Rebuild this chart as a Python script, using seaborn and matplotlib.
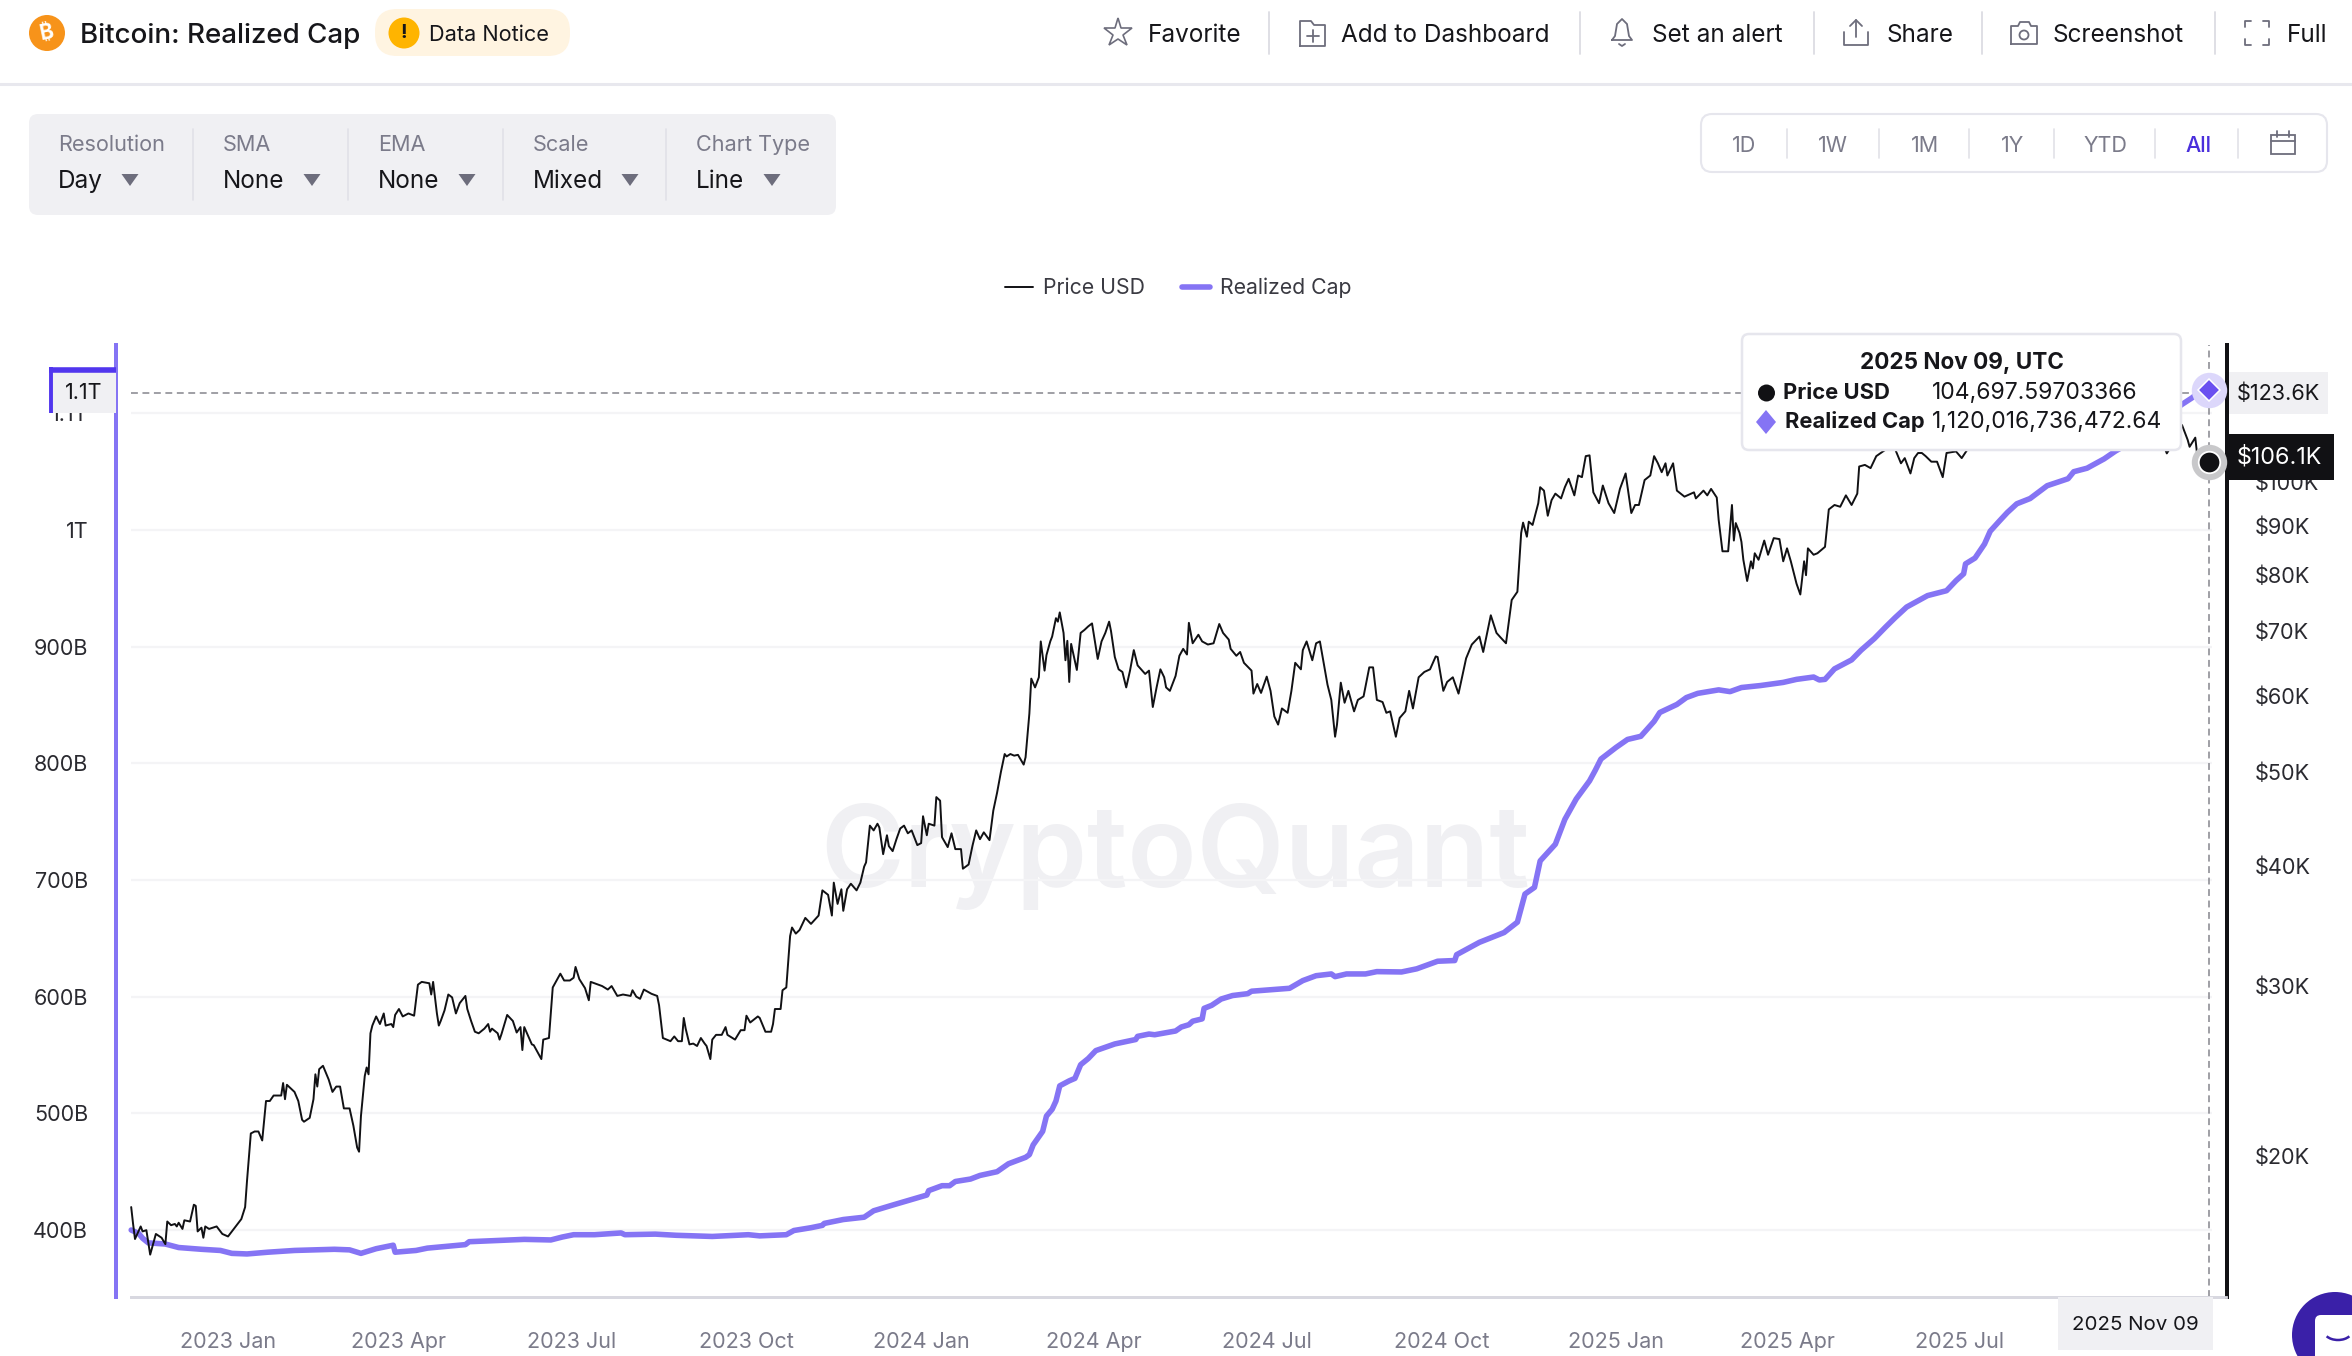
#!/usr/bin/env python3

import numpy as np
import pandas as pd
import seaborn as sns

import matplotlib
matplotlib.use("Agg")
import matplotlib.pyplot as plt
import matplotlib.dates as mdates
from matplotlib.patches import Circle, FancyBboxPatch, Rectangle, Polygon, Arc
from matplotlib.ticker import NullLocator

# --------------------------------------------------------------------------------
# data, days are counted from 2023-01-01

price_days = [
    -51, -50, -49, -46, -45, -43, -41, -38, -35, -33, -32, -30, -28, -27, -26, -24,
    -23, -20, -18, -17, -16, -14, -13, -12, -10, -6, -3, 0, 4, 7, 9, 10,
    12, 14, 16, 18, 20, 22, 24, 28, 29, 30, 31, 35, 37, 39, 40, 43,
    45, 46, 47, 48, 50, 53, 55, 57, 59, 61, 64, 66, 68, 69, 70, 72,
    73, 74, 75, 76, 78, 80, 82, 83, 86, 87, 88, 90, 92, 95, 98, 99,
    100, 102, 106, 107, 108, 110, 111, 112, 114, 116, 118, 120, 122, 125, 126, 128,
    130, 132, 135, 137, 138, 139, 142, 143, 144, 147, 150, 152, 154, 155, 156, 160,
    161, 165, 166, 169, 171, 173, 175, 177, 180, 182, 183, 185, 188, 190, 191, 193,
    197, 200, 202, 205, 208, 212, 213, 215, 217, 219, 223, 226, 227, 229, 231, 233,
    235, 237, 239, 240, 241, 243, 245, 247, 249, 251, 252, 254, 255, 257, 260, 262,
    263, 267, 270, 272, 273, 275, 279, 280, 283, 286, 287, 288, 291, 292, 294, 296,
    297, 299, 301, 304, 307, 311, 313, 316, 318, 319, 321, 323, 324, 326, 328, 331,
    333, 335, 336, 338, 340, 342, 343, 345, 347, 348, 350, 352, 354, 356, 358, 360,
    363, 365, 366, 368, 369, 372, 373, 375, 376, 379, 381, 383, 386, 387, 390, 392,
    394, 396, 398, 401, 403, 405, 407, 409, 410, 412, 414, 416, 419, 420, 422, 423,
    425, 427, 428, 430, 431, 433, 434, 436, 437, 438, 440, 441, 442, 443, 444, 447,
    449, 451, 453, 455, 458, 460, 462, 464, 465, 467, 469, 471, 473, 475, 477, 479,
    483, 485, 487, 489, 491, 493, 494, 496, 499, 501, 503, 505, 506, 508, 511, 513,
    516, 519, 522, 524, 527, 528, 531, 533, 535, 539, 540, 542, 544, 547, 549, 551,
    553, 555, 558, 560, 562, 565, 566, 568, 571, 573, 575, 577, 579, 581, 583, 584,
    586, 588, 590, 593, 595, 598, 601, 603, 605, 608, 610, 612, 615, 617, 620, 622,
    624, 627, 630, 633, 636, 637, 640, 642, 645, 648, 650, 652, 655, 659, 661, 665,
    668, 670, 673, 676, 679, 681, 682, 684, 685, 687, 690, 691, 693, 695, 697, 699,
    702, 704, 706, 709, 711, 713, 715, 717, 719, 722, 724, 727, 730, 733, 736, 739,
    741, 743, 746, 749, 751, 753, 755, 757, 758, 761, 763, 767, 772, 773, 777, 779,
    781, 784, 785, 787, 788, 790, 792, 793, 794, 796, 797, 798, 800, 802, 803, 804,
    806, 807, 809, 811, 814, 817, 819, 821, 823, 826, 828, 830, 831, 832, 835, 837,
    841, 843, 846, 849, 852, 855, 858, 859, 862, 865, 868, 873, 878, 881, 883, 886,
    888, 890, 892, 894, 897, 900, 903, 905, 910, 913, 916, 921, 923, 924, 925, 928,
    932, 938, 944, 948, 952, 956, 959, 965, 970, 974, 980, 986, 992, 998, 1002, 1006,
    1009, 1012, 1013, 1017, 1021, 1026, 1029, 1032, 1033, 1036, 1037, 1039, 1040, 1041, 1042, 1043,
]
price_usd_k = [
    17.7, 17.0, 16.4, 16.9, 16.7, 16.75, 15.8, 16.6, 16.45, 16.2, 17.1, 16.95, 17.0, 16.9, 17.05, 16.8,
    17.15, 17.1, 17.8, 17.75, 16.7, 16.85, 16.45, 16.9, 16.8, 16.9, 16.6, 16.5, 16.9, 17.2, 17.7, 18.85,
    21.1, 21.2, 21.2, 20.75, 22.8, 22.8, 23.1, 23.1, 23.8, 22.9, 23.7, 23.3, 22.8, 21.8, 21.7, 21.9,
    22.9, 24.3, 23.6, 24.6, 24.8, 24.0, 23.3, 23.6, 23.6, 22.4, 22.4, 21.5, 20.4, 20.2, 22.0, 24.2,
    24.7, 24.3, 26.8, 27.3, 27.9, 27.4, 28.1, 27.3, 27.4, 27.2, 28.0, 28.4, 27.9, 28.1, 27.95, 29.0,
    30.1, 30.3, 30.2, 29.4, 30.3, 28.1, 27.3, 27.6, 28.3, 29.4, 29.2, 28.1, 28.8, 29.3, 28.4, 27.6,
    26.9, 26.8, 27.1, 27.4, 26.9, 27.1, 26.8, 26.4, 26.75, 28.0, 27.6, 26.85, 27.2, 25.75, 27.2, 26.1,
    26.05, 25.2, 26.4, 26.5, 29.9, 30.4, 30.9, 30.4, 30.4, 30.6, 31.4, 30.5, 29.85, 29.0, 30.3, 30.2,
    30.0, 29.75, 30.0, 29.3, 29.4, 29.3, 29.7, 29.25, 29.1, 29.75, 29.45, 29.3, 28.65, 26.5, 26.4, 26.3,
    26.6, 26.3, 26.3, 27.8, 27.1, 26.1, 26.15, 26.0, 26.5, 26.15, 26.0, 25.2, 26.4, 26.7, 26.7, 27.2,
    26.7, 26.4, 27.0, 27.0, 27.95, 27.5, 27.9, 27.8, 26.9, 26.9, 27.4, 28.4, 28.4, 29.7, 29.9, 33.8,
    34.5, 34.0, 34.3, 35.3, 34.8, 35.5, 37.7, 37.3, 35.5, 38.4, 36.5, 37.8, 35.9, 37.8, 38.3, 37.7,
    38.4, 39.9, 40.3, 44.0, 43.5, 44.2, 43.8, 41.1, 43.0, 41.9, 41.4, 42.6, 43.7, 44.0, 43.2, 43.5,
    42.0, 42.2, 45.0, 43.0, 44.2, 44.0, 47.1, 46.7, 42.8, 41.8, 43.2, 41.6, 41.6, 39.7, 40.1, 41.9,
    43.5, 42.6, 43.3, 42.5, 45.6, 47.6, 50.0, 52.2, 51.9, 52.2, 52.0, 52.1, 50.9, 51.8, 57.5, 62.5,
    61.2, 62.7, 68.3, 63.7, 66.1, 68.3, 69.1, 72.2, 71.6, 73.2, 69.7, 65.3, 68.4, 62.0, 67.9, 63.8,
    69.7, 70.2, 70.8, 71.3, 65.5, 68.3, 69.7, 71.6, 70.0, 65.8, 63.9, 63.5, 61.2, 63.7, 66.9, 64.5,
    63.2, 63.7, 58.4, 61.2, 63.9, 62.7, 61.2, 60.7, 62.9, 66.0, 67.1, 66.2, 71.4, 68.0, 69.4, 68.3,
    67.8, 68.0, 71.2, 69.7, 68.6, 67.1, 66.0, 66.6, 64.9, 63.7, 60.3, 61.7, 60.4, 62.8, 60.7, 57.1,
    56.0, 58.2, 57.6, 60.7, 64.9, 63.9, 66.9, 68.3, 65.3, 68.0, 68.3, 64.9, 61.6, 59.4, 54.4, 56.0,
    61.9, 59.0, 60.7, 57.8, 59.4, 59.9, 64.2, 64.2, 59.4, 59.1, 57.6, 57.8, 54.4, 56.9, 57.8, 60.7,
    58.2, 62.7, 63.5, 63.9, 65.9, 65.8, 60.7, 62.0, 62.7, 60.3, 62.9, 65.6, 67.8, 69.1, 66.6, 72.7,
    69.7, 69.0, 68.0, 75.4, 76.9, 88.5, 90.7, 87.7, 90.9, 90.2, 95.0, 98.7, 97.9, 92.2, 95.7, 97.2,
    96.1, 98.7, 100.7, 96.8, 101.5, 101.1, 106.3, 106.5, 97.5, 95.0, 99.1, 95.0, 92.8, 98.3, 102.0, 92.8,
    94.6, 94.6, 100.4, 101.5, 106.3, 104.5, 102.3, 104.5, 101.5, 104.5, 97.9, 96.5, 97.5, 96.1, 97.9, 96.8,
    98.3, 96.3, 91.3, 84.7, 84.7, 84.7, 94.6, 86.9, 90.6, 88.5, 86.6, 83.0, 78.9, 82.7, 81.3, 84.3,
    83.0, 84.3, 86.9, 84.0, 87.4, 87.2, 82.7, 85.3, 82.7, 78.4, 76.4, 82.7, 80.0, 85.3, 84.0, 84.3,
    85.6, 93.6, 94.6, 94.2, 96.8, 94.6, 97.2, 103.7, 104.1, 103.3, 106.3, 108.0, 108.0, 104.5, 105.8, 102.0,
    105.8, 107.1, 107.1, 106.3, 104.9, 104.9, 101.1, 107.1, 107.5, 105.8, 108.0, 109.0, 111.0, 116.0, 118.0, 119.0,
    118.0, 118.0, 117.0, 114.0, 116.0, 123.0, 117.0, 115.0, 113.0, 108.5, 111.0, 115.0, 116.0, 112.0, 110.0, 118.0,
    124.0, 122.0, 113.0, 112.0, 107.0, 111.0, 114.5, 110.5, 108.7, 111.1, 106.6, 103.9, 101.3, 103.5, 102.5, 104.7,
]

cap_days = [
    -51, -47, -45, -42, -33, -26, -14, -4, 2, 10, 21, 35, 45, 56, 64, 70,
    78, 87, 88, 99, 105, 115, 125, 127, 142, 156, 170, 176, 182, 193, 207, 209,
    225, 236, 255, 274, 280, 294, 298, 307, 313, 314, 324, 335, 340, 350, 359, 368,
    369, 376, 380, 383, 391, 396, 405, 411, 420, 422, 424, 427, 429, 431, 434, 436,
    438, 443, 446, 449, 453, 457, 467, 478, 479, 485, 488, 499, 502, 506, 508, 513,
    514, 518, 523, 529, 537, 539, 543, 559, 566, 573, 581, 583, 589, 599, 605, 618,
    626, 637, 646, 647, 659, 672, 679, 683, 688, 691, 699, 704, 710, 717, 720, 723,
    731, 737, 744, 751, 754, 763, 768, 774, 785, 791, 797, 807, 819, 826, 835, 838,
    841, 846, 855, 860, 867, 873, 878, 884, 895, 905, 910, 914, 915, 920, 925, 928,
    933, 937, 942, 949, 958, 969, 972, 979, 988, 994, 1005, 1015, 1025, 1029, 1034, 1038, 1043,
]
cap_billion = [
    400, 397, 393, 389, 388, 385, 383.5, 382.5, 380, 379.5, 381, 382.5, 383, 383.5, 383, 380,
    384, 387, 381, 382.5, 384.5, 386, 387.5, 390, 391, 392, 391.5, 394, 396, 396, 397.5, 396,
    396.5, 395.5, 394.5, 396, 395, 396, 399.6, 402, 404, 405.7, 409, 411, 416.5, 421.4, 425.7, 430,
    433.8, 438, 438, 441.6, 443.7, 446.8, 450, 456.8, 462.3, 464.6, 473, 480, 484.6, 497.7, 503.5, 510.6,
    523.6, 527.9, 530, 541.7, 547, 553.8, 559.5, 563.3, 566, 568, 567.4, 570.6, 574, 576, 579, 581,
    590, 592.6, 598, 601, 602.6, 604.7, 605.2, 607.2, 613.8, 618, 619.5, 617.2, 619.5, 619.5, 621.5, 621.2,
    623.9, 630.4, 631, 636, 646.6, 655, 663.9, 688, 693.7, 716.4, 730.7, 752, 769.5, 785, 794, 803.7,
    813.7, 820.5, 823.2, 836, 843.6, 850.5, 856.4, 860, 863, 861.5, 865, 866.7, 869.4, 872, 874, 871.5,
    872, 881, 888.7, 897, 907, 917, 925, 934, 943.8, 948, 956.6, 962.5, 971, 976, 988, 999,
    1008, 1015, 1022.5, 1027, 1038, 1044, 1050, 1053, 1061, 1067.7, 1078, 1090, 1103, 1107.7, 1113, 1118, 1120,
]

cap_ticks = [400, 500, 600, 700, 800, 900, 1000, 1100]
cap_tick_labels = ["400B", "500B", "600B", "700B", "800B", "900B", "1T", "1.1T"]
price_ticks = [20, 30, 40, 50, 60, 70, 80, 90, 100]
price_tick_labels = ["$20K", "$30K", "$40K", "$50K", "$60K", "$70K", "$80K", "$90K", "$100K"]
date_ticks = ["2023-01-01", "2023-04-01", "2023-07-01", "2023-10-01", "2024-01-01",
              "2024-04-01", "2024-07-01", "2024-10-01", "2025-01-01", "2025-04-01", "2025-07-01"]
date_tick_labels = ["2023 Jan", "2023 Apr", "2023 Jul", "2023 Oct", "2024 Jan",
                    "2024 Apr", "2024 Jul", "2024 Oct", "2025 Jan", "2025 Apr", "2025 Jul"]
cursor_price_k = 123.6

GREY = "#7b7b8a"
DARK = "#16161a"
PURPLE = "#8574f4"
INDIGO = "#5136ee"
PANEL = "#f0f0f3"
EDGE = "#e6e6ed"

W, H = 2352, 1356
ORIGIN = pd.Timestamp("2023-01-01")

# --------------------------------------------------------------------------------

def to_dates(days):

    return ORIGIN + pd.to_timedelta(days, unit="D")

# --------------------------------------------------------------------------------

def txt(ov, x, y, s, size=14.5, color=DARK, ha="left", weight="normal"):

    ov.text(x, y, s, fontsize=size, color=color, ha=ha, va="center_baseline",
            fontweight=weight)

# --------------------------------------------------------------------------------

def rbox(ov, x0, y0, x1, y1, rad, fc, ec="none", lw=0, z=1):

    ov.add_patch(FancyBboxPatch((x0 + rad, y0 + rad), x1 - x0 - 2 * rad, y1 - y0 - 2 * rad,
                                boxstyle="round,pad={0},rounding_size={0}".format(rad),
                                fc=fc, ec=ec, lw=lw, zorder=z))

# --------------------------------------------------------------------------------

def draw_header(ov):

    # title and notice badge
    ov.add_patch(Circle((47, 33), 18, fc="#f7931a", ec="none"))
    ov.text(47, 33, "\u20bf", fontsize=15, color="white", ha="center", va="center",
            fontweight="bold", rotation=12,
            family=["Inter", "Noto Sans", "Roboto", "Open Sans", "Lato", "Liberation Sans", "DejaVu Sans"])
    txt(ov, 80, 33, "Bitcoin: Realized Cap", size=20, weight="medium")
    rbox(ov, 375, 9, 570, 56, 22, "#fff4e1")
    ov.add_patch(Circle((404, 33), 15.5, fc="#ffb400", ec="none"))
    ov.text(404, 33, "!", fontsize=14, color=DARK, ha="center", va="center", fontweight="bold")
    txt(ov, 429, 33, "Data Notice", size=15.6)
    ov.plot([0, W], [84, 84], color="#e8e8ee", lw=2.2)

    # right hand actions
    for x_sep in [1269, 1580, 1814, 1982, 2215]:
        ov.plot([x_sep, x_sep], [12, 54], color="#dcdce3", lw=1.3)
    for x_txt, lab in zip([1148, 1341, 1652, 1886, 2053, 2287],
                          ["Favorite", "Add to Dashboard", "Set an alert", "Share", "Screenshot", "Full"]):
        txt(ov, x_txt, 33, lab, size=17.5)

    icon = dict(color="#6d6d7c", lw=1.3)
    # star
    ov.plot([1118], [33], marker="*", ms=21, mfc="white", mec="#6d6d7c", mew=1.2)
    # folder with a plus
    ov.plot([1300, 1300, 1311, 1314, 1325, 1325, 1300], [46, 21, 21, 25, 25, 46, 46], **icon)
    ov.plot([1307, 1319], [36, 36], **icon)
    ov.plot([1313, 1313], [30, 42], **icon)
    # bell
    ov.plot([1612, 1615, 1617, 1622, 1627, 1629, 1632, 1612], [40, 36, 24, 19, 24, 36, 40, 40], **icon)
    ov.plot([1619, 1622, 1625], [44, 46, 44], **icon)
    # share
    ov.plot([1844, 1844, 1868, 1868], [32, 45, 45, 32], **icon)
    ov.plot([1856, 1856], [37, 20], **icon)
    ov.plot([1850, 1856, 1862], [26, 20, 26], **icon)
    # camera
    ov.plot([2011, 2011, 2018, 2020, 2029, 2031, 2037, 2037, 2011], [44, 26, 26, 22, 22, 26, 26, 44, 44], **icon)
    ov.add_patch(Circle((2024, 35), 4.5, fc="none", ec="#6d6d7c", lw=1.3))
    # full screen corners
    for sx, x0 in [(1, 2245), (-1, 2269)]:
        for sy, y0 in [(1, 21), (-1, 45)]:
            ov.plot([x0, x0, x0 + 6 * sx], [y0 + 6 * sy, y0, y0], **icon)

# --------------------------------------------------------------------------------

def draw_controls(ov):

    # dropdown panel on the left
    rbox(ov, 29, 114, 836, 215, 9, PANEL)
    for x_sep in [193, 348, 503, 666]:
        ov.plot([x_sep, x_sep], [129, 200], color="#e1e1e7", lw=1.2)
    for x0, lab, val, x_arrow in zip([58, 223, 378, 533, 696],
                                     ["Resolution", "SMA", "EMA", "Scale", "Chart Type"],
                                     ["Day", "None", "None", "Mixed", "Line"],
                                     [130, 312, 467, 630, 772]):
        txt(ov, x0, 143, lab, size=15.6, color=GREY)
        txt(ov, x0, 179, val, size=17.5)
        ov.add_patch(Polygon([[x_arrow - 8.5, 174], [x_arrow + 8.5, 174], [x_arrow, 186]],
                             fc="#6d6d7c", ec="none"))

    # range selector on the right
    rbox(ov, 1701, 114, 2327, 172, 11, "white", ec=EDGE, lw=1.5)
    for x_sep in [1787, 1879, 1969, 2054, 2155, 2238]:
        ov.plot([x_sep, x_sep], [129, 158], color="#e1e1e7", lw=1.2)
    for x_c, lab in zip([1744, 1833, 1925, 2013, 2105], ["1D", "1W", "1M", "1Y", "YTD"]):
        txt(ov, x_c, 144, lab, size=15.5, color=GREY, ha="center")
    txt(ov, 2198, 144, "All", size=15.5, color="#4a2fdc", ha="center", weight="medium")
    ov.add_patch(Rectangle((2271, 135), 24, 19, fc="none", ec="#6d6d7c", lw=1.3))
    ov.plot([2271, 2295], [141, 141], color="#6d6d7c", lw=1.3)
    ov.plot([2277, 2277], [131, 137], color="#6d6d7c", lw=1.3)
    ov.plot([2289, 2289], [131, 137], color="#6d6d7c", lw=1.3)

# --------------------------------------------------------------------------------

def draw_tooltip(ov, price_last, cap_last):

    # axis read-outs next to the cursor
    ov.add_patch(Rectangle((50, 369), 66, 44, fc=PANEL, ec="none", zorder=6))
    ov.plot([49, 116], [370, 370], color=INDIGO, lw=4, zorder=7, solid_capstyle="butt")
    ov.plot([51, 51], [367, 413], color=INDIGO, lw=2.8, zorder=7, solid_capstyle="butt")
    ov.text(84, 393, "1.1T", fontsize=15.5, color=DARK, ha="center", va="center", zorder=8)

    ov.add_patch(Rectangle((2229, 372), 99, 42, fc=PANEL, ec="none", zorder=6))
    ov.text(2237, 394, "$123.6K", fontsize=15.6, color=DARK, va="center", zorder=8)
    ov.add_patch(Rectangle((2229, 434), 105, 46, fc="#111114", ec="none", zorder=6))
    ov.text(2237, 457, "$106.1K", fontsize=16.8, color="white", va="center", zorder=8)

    # date read-out under the x axis
    ov.add_patch(Rectangle((2058, 1297), 155, 53, fc=PANEL, ec="none", zorder=6))
    ov.text(2135, 1325, "2025 Nov 09", fontsize=14.8, color=DARK, ha="center", va="center", zorder=8)

    # tooltip box
    rbox(ov, 1742, 334, 2181, 450, 7, "white", ec=EDGE, lw=1.8, z=6)
    ov.text(1962, 363, "2025 Nov 09, UTC", fontsize=16.2, color=DARK, ha="center", va="center",
            fontweight="bold", zorder=8)
    ov.add_patch(Circle((1766.5, 393), 8.5, fc="#111114", ec="none", zorder=8))
    ov.text(1783, 393, "Price USD", fontsize=15.8, color=DARK, va="center", fontweight="bold", zorder=8)
    ov.text(1932, 393, "{:,.8f}".format(price_last), fontsize=16.5, color=DARK, va="center", zorder=8)
    ov.add_patch(Polygon([[1766, 410], [1776, 422], [1766, 434], [1756, 422]], fc=PURPLE, ec="none", zorder=8))
    ov.text(1785, 422, "Realized Cap", fontsize=15.8, color=DARK, va="center", fontweight="bold", zorder=8)
    ov.text(1932, 422, "{:,.2f}".format(cap_last), fontsize=16.5, color=DARK, va="center", zorder=8)

    # chat button cut by the corner of the page
    ov.add_patch(Circle((2335, 1335), 43, fc="#3a20a8", ec="none", zorder=8))
    rbox(ov, 2315, 1315, 2370, 1370, 6, "white", z=9)
    ov.add_patch(Arc((2338, 1331), 28, 18, theta1=25, theta2=155, color="#3a20a8", lw=1.8, zorder=10))

# --------------------------------------------------------------------------------

def main():

    sns.set_theme(style="white")
    plt.rcParams["font.family"] = ["Inter", "DejaVu Sans"]

    fig = plt.figure(figsize=(W / 100, H / 100), dpi=100, facecolor="white")

    # page layer under the chart
    bg = fig.add_axes([0, 0, 1, 1], zorder=0)
    bg.set_xlim(0, W)
    bg.set_ylim(H, 0)
    bg.axis("off")
    draw_header(bg)
    draw_controls(bg)
    bg.text(1175, 857, "CryptoQuant", fontsize=82, color="#f0f0f3", ha="center", va="center",
            fontweight="semibold")

    # chart axes in real data units
    ax = fig.add_axes([116 / W, 1 - 1297 / H, (2227 - 116) / W, (1297 - 345) / H], zorder=1)
    ax.patch.set_visible(False)

    cap_df = pd.DataFrame({"date": to_dates(cap_days), "cap": cap_billion})
    price_df = pd.DataFrame({"date": to_dates(price_days), "price": price_usd_k})

    sns.lineplot(data=cap_df, x="date", y="cap", ax=ax, color=PURPLE, lw=4, sort=False,
                 estimator=None, label="Realized Cap", solid_joinstyle="round")
    ax.set_xlim(to_dates([-59])[0], to_dates([1052.7])[0])
    ax.set_ylim(342.6, 1158.6)
    ax.set_xlabel("")
    ax.set_ylabel("")

    ax2 = ax.twinx()
    ax2.patch.set_visible(False)
    sns.lineplot(data=price_df, x="date", y="price", ax=ax2, color="#111114", lw=1.4, sort=False,
                 estimator=None, label="Price USD")
    ax2.set_yscale("log")
    ax2.set_ylim(14.28, 138.6)
    ax2.set_ylabel("")
    ax2.yaxis.set_minor_locator(NullLocator())

    # grid stops short of both axis lines
    ax.hlines(cap_ticks, to_dates([-51])[0], to_dates([1045])[0], color="#f4f4f6", lw=1.6, zorder=0)

    ax.set_yticks(cap_ticks, cap_tick_labels)
    ax2.set_yticks(price_ticks, price_tick_labels)
    ax.set_xticks(pd.to_datetime(date_ticks), date_tick_labels)

    ax.tick_params(axis="y", length=0, pad=20, labelsize=15.5, labelcolor="#2a2a30")
    ax2.tick_params(axis="y", length=0, pad=20, labelsize=15.6, labelcolor="#2a2a30")
    ax.tick_params(axis="x", length=13, width=1.5, color="#d8d8e0", pad=12, labelsize=15.5, labelcolor=GREY)

    for axis in [ax, ax2]:
        axis.spines["top"].set_visible(False)
        axis.spines["left"].set_color(PURPLE)
        axis.spines["left"].set_linewidth(2.8)
        axis.spines["right"].set_color("#111114")
        axis.spines["right"].set_linewidth(2.8)
        axis.spines["bottom"].set_color("#d8d8e0")
        axis.spines["bottom"].set_linewidth(2)
        axis.spines["bottom"].set_bounds(mdates.date2num(to_dates([-51])[0]),
                                         mdates.date2num(to_dates([1052])[0]))

    # crosshair at the mouse position
    last_date = to_dates([price_days[-1]])[0]
    ax.axvline(last_date, color="#85858d", lw=1.1, ls=(0, (4.5, 3)), zorder=1)
    ax2.hlines(cursor_price_k, to_dates([-51])[0], last_date, color="#85858d", lw=1.1,
               ls=(0, (4.5, 3)), zorder=1)

    ax2.plot([last_date], [price_usd_k[-1]], marker="o", ms=25.5, mfc="#c8c8ca", mec="none", zorder=5)
    ax2.plot([last_date], [price_usd_k[-1]], marker="o", ms=15.5, mfc="#111114", mec="white", mew=1.3, zorder=6)
    # the cap marker lives on the other axes, which sits under the price axes
    cap_y = ax.transData.transform((mdates.date2num(last_date), cap_billion[-1]))
    cap_y = ax2.transData.inverted().transform(cap_y)[1]
    ax2.plot([last_date], [cap_y], marker="o", ms=25.5, mfc="#dcd7fb", mec="none", zorder=5)
    ax2.plot([last_date], [cap_y], marker="D", ms=11, mfc="#6a50f0", mec="white", mew=1.1, zorder=6)

    # legend, price first
    handles = ax2.get_legend_handles_labels()[0] + ax.get_legend_handles_labels()[0]
    labels = ax2.get_legend_handles_labels()[1] + ax.get_legend_handles_labels()[1]
    ax.get_legend().remove()
    ax2.get_legend().remove()
    fig.legend(handles, labels, ncol=2, loc="center", bbox_to_anchor=(1178 / W, 1 - 288 / H),
               frameon=False, fontsize=15.3, handlelength=1.33, handletextpad=0.45, columnspacing=1.75,
               labelcolor="#3a3a42")

    # page layer over the chart
    ov = fig.add_axes([0, 0, 1, 1], zorder=5)
    ov.set_xlim(0, W)
    ov.set_ylim(H, 0)
    ov.axis("off")
    ov.patch.set_visible(False)
    draw_tooltip(ov, 104697.59703366, 1120016736472.64)

    fig.savefig("out.png", dpi=100)


if __name__ == "__main__":

    main()
